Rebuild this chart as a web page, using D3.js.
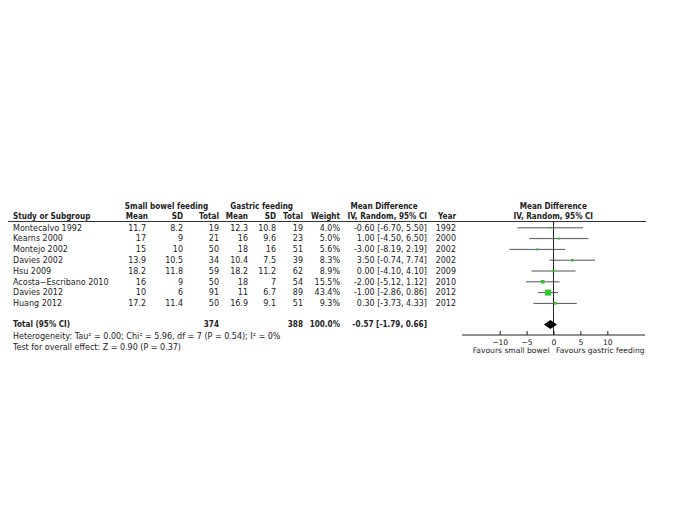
<!DOCTYPE html>
<html><head><meta charset="utf-8">
<script src="https://cdn.jsdelivr.net/npm/d3@7"></script>
<style>
html,body{margin:0;padding:0;background:#fff;}
text{font-family:"DejaVu Sans",sans-serif;fill:#222;}
</style></head>
<body>
<script>
const studies = ["Montecalvo 1992","Kearns 2000","Montejo 2002","Davies 2002","Hsu 2009","Acosta\u2212Escribano 2010","Davies 2012","Huang 2012"];
const sbMean = ["11.7","17","15","13.9","18.2","16","10","17.2"];
const sbSD = ["8.2","9","10","10.5","11.8","9","6","11.4"];
const sbTotal = [19,21,50,34,59,50,91,50];
const gfMean = ["12.3","16","18","10.4","18.2","18","11","16.9"];
const gfSD = ["10.8","9.6","16","7.5","11.2","7","6.7","9.1"];
const gfTotal = [19,23,51,39,62,54,89,51];
const weight = [4.0,5.0,5.6,8.3,8.9,15.5,43.4,9.3];
const md = [-0.60,1.00,-3.00,3.50,0.00,-2.00,-1.00,0.30];
const lo = [-6.70,-4.50,-8.19,-0.74,-4.10,-5.12,-2.86,-3.73];
const hi = [5.50,6.50,2.19,7.74,4.10,1.12,0.86,4.33];
const year = [1992,2000,2002,2002,2009,2010,2012,2012];
const total = {sb:374, gf:388, w:"100.0%", md:-0.57, lo:-1.79, hi:0.66};
const heterogeneity = "Heterogeneity: Tau\u00b2 = 0.00; Chi\u00b2 = 5.96, df = 7 (P = 0.54); I\u00b2 = 0%";
const overall = "Test for overall effect: Z = 0.90 (P = 0.37)";
const axisTicks = [-10,-5,0,5,10];
const axisDomain = [-17,17];

const W=685,H=513, FS=8.0, AFS=7.6, BOLDK=0.91;
const svg = d3.select("body").append("svg").attr("width",W).attr("height",H);
const x = d3.scaleLinear().domain(axisDomain).range([462,645]);
const rowY = d3.scaleLinear().domain([0,1]).range([227.8,238.6]);
const fmt2 = d3.format(".2f");
const f = v => fmt2(v).replace("\u2212","-");
const ci = (m,l,h) => `${f(m)} [${f(l)}, ${f(h)}]`;

function t(xp,yp,str,anchor,bold,fs){
  const el = svg.append("text").attr("x",xp).attr("y",yp).attr("dy","0.35em")
    .attr("text-anchor",anchor||"start").attr("font-size",fs||FS)
    .attr("font-weight",bold?"bold":"normal").text(str);
  if(bold){
    const L = el.node().getComputedTextLength();
    el.attr("textLength",L*BOLDK).attr("lengthAdjust","spacingAndGlyphs");
  }
  return el;
}
// headers
t(166.5,205.7,"Small bowel feeding","middle",true);
t(261.7,205.7,"Gastric feeding","middle",true);
t(384,205.7,"Mean Difference","middle",true);
t(553.3,205.7,"Mean Difference","middle",true);
const hy=216.3;
t(13,hy,"Study or Subgroup","start",true);
t(148,hy,"Mean","end",true);t(183,hy,"SD","end",true);t(219,hy,"Total","end",true);
t(248,hy,"Mean","end",true);t(276,hy,"SD","end",true);t(303,hy,"Total","end",true);
t(340,hy,"Weight","end",true);
t(427,hy,"IV, Random, 95% CI","end",true);
t(456,hy,"Year","end",true);
t(553.3,hy,"IV, Random, 95% CI","middle",true);
svg.append("line").attr("x1",8).attr("x2",646).attr("y1",221.5).attr("y2",221.5).attr("stroke","#333").attr("stroke-width",1);

studies.forEach((s,i)=>{
  const y=rowY(i);
  t(13,y,s);
  t(146,y,sbMean[i],"end");t(183,y,sbSD[i],"end");t(219,y,sbTotal[i],"end");
  t(248,y,gfMean[i],"end");t(276,y,gfSD[i],"end");t(303,y,gfTotal[i],"end");
  t(340,y,weight[i].toFixed(1)+"%","end");
  t(427,y,ci(md[i],lo[i],hi[i]),"end");
  t(456,y,year[i],"end");
});
const ty=323.7;
t(13,ty,"Total (95% CI)","start",true);
t(219,ty,total.sb,"end",true);
t(303,ty,total.gf,"end",true);
t(340,ty,total.w,"end",true);
t(427,ty,ci(total.md,total.lo,total.hi),"end",true);
t(13,335.7,heterogeneity);
t(13,346.7,overall);

// forest
const axisY=335;
svg.append("line").attr("x1",x(0)).attr("x2",x(0)).attr("y1",221.5).attr("y2",axisY).attr("stroke","#222").attr("stroke-width",1);
const g = svg.append("g");
studies.forEach((s,i)=>{
  const y=rowY(i);
  g.append("line").attr("x1",x(lo[i])).attr("x2",x(hi[i])).attr("y1",y).attr("y2",y).attr("stroke","#555").attr("stroke-width",1);
  const side=0.92*Math.sqrt(weight[i]);
  g.append("rect").attr("x",x(md[i])-side/2).attr("y",y-side/2).attr("width",side).attr("height",side).attr("fill","#2ec82e");
});
const dy=324.5;
svg.append("path").attr("d",`M${x(total.lo)},${dy}L${x(total.md)},${dy-4.5}L${x(total.hi)},${dy}L${x(total.md)},${dy+4.5}Z`).attr("fill","#000");
const ax = d3.axisTop(x).tickValues(axisTicks).tickSize(4).tickFormat(d=>d<0?"\u2212"+Math.abs(d):d);
const axg = svg.append("g").attr("transform",`translate(0,${axisY})`).call(ax);
axg.select(".domain").attr("stroke","#222").attr("d",`M${x.range()[0]},0H${x.range()[1]}`);
axg.selectAll(".tick line").attr("stroke","#222");
axg.selectAll(".tick text").attr("y",7).attr("dy","0.35em").attr("font-size",AFS).attr("font-family","DejaVu Sans").attr("fill","#222");
t(549.5,350.7,"Favours small bowel","end",false,AFS);
t(556,350.7,"Favours gastric feeding","start",false,AFS);
</script>
</body></html>
